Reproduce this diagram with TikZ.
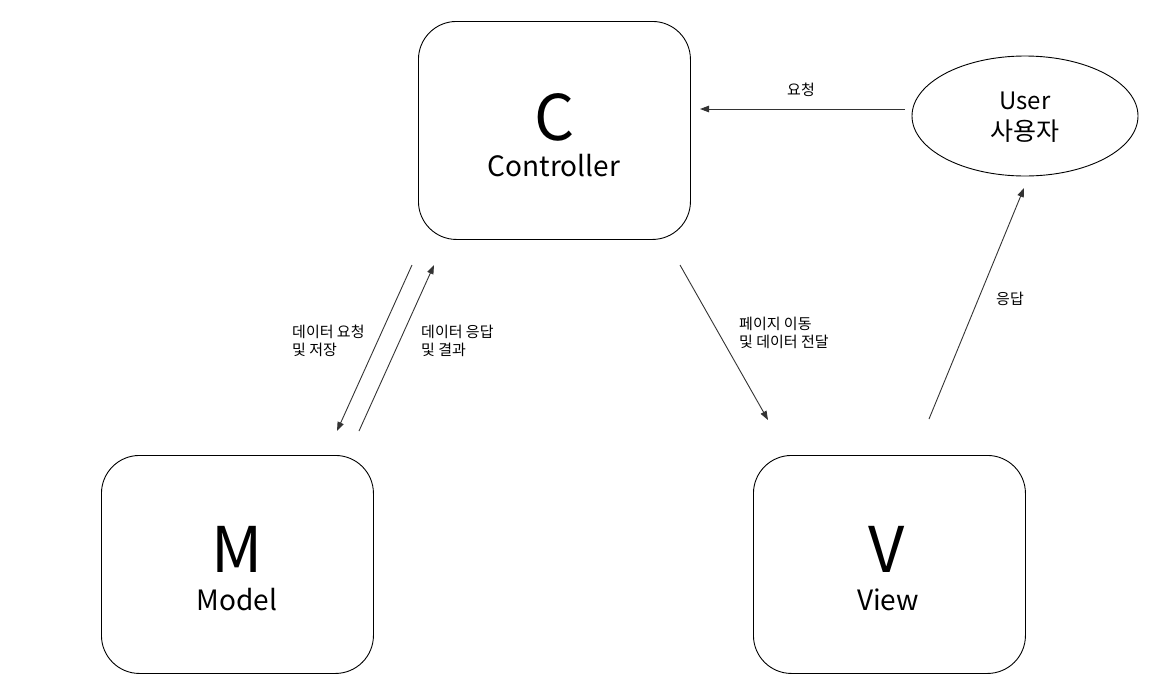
\documentclass[tikz,border=0pt]{standalone}
\usepackage{fontspec}
\setmainfont{Noto Sans CJK KR}
\usetikzlibrary{arrows.meta,shapes.geometric}
\begin{document}
\begin{tikzpicture}[x=1pt,y=-1pt,
  box/.style={draw=black,line width=0.9pt,rounded corners=38pt,minimum width=272pt,minimum height=218pt,anchor=north west,inner sep=0pt},
  conn/.style={draw=black!80,line width=0.9pt,-{Triangle[length=9pt,width=6.5pt]}},
  lbl/.style={font=\fontsize{15}{18}\selectfont,align=left,inner sep=0pt},
  big/.style={font=\fontsize{63}{63}\selectfont,inner sep=0pt},
  sub/.style={font=\fontsize{28}{28}\selectfont,inner sep=0pt}]
\useasboundingbox (0,0) rectangle (1170,691);
\node[box] (C) at (418,21) {};
\node[box] (M) at (101,455) {};
\node[box] (V) at (753,455) {};
\node[draw=black,line width=0.9pt,ellipse,minimum width=226pt,minimum height=120pt,inner sep=0pt] (U) at (1025,116) {};
\node[big] (Ct) at (555,117) {C};
\node[sub] (Cs) at (554,166) {Controller};
\node[big] (Mt) at (237,549) {M};
\node[sub] (Ms) at (237,600) {Model};
\node[big] (Vt) at (887,549) {V};
\node[sub] (Vs) at (888,600) {View};
\node[font=\fontsize{24}{24}\selectfont,inner sep=0pt] (Ut1) at (1025,101) {User};
\node[font=\fontsize{25}{25}\selectfont,inner sep=0pt] (Ut2) at (1025,131) {사용자};
% connector end coordinates
\coordinate (reqS) at (905,109);
\coordinate (reqE) at (700,109);
\coordinate (cmS) at (412,265);
\coordinate (cmE) at (337,431);
\coordinate (mcS) at (359,431);
\coordinate (mcE) at (434,265);
\coordinate (cvS) at (680,265);
\coordinate (cvE) at (768,420);
\coordinate (vuS) at (929,419);
\coordinate (vuE) at (1024,188);
\draw[conn] (reqS) -- (reqE);
\draw[conn] (cmS) -- (cmE);
\draw[conn] (mcS) -- (mcE);
\draw[conn] (cvS) -- (cvE);
\draw[conn] (vuS) -- (vuE);
\node[lbl] (l1) at (801,90) {요청};
\node[lbl,anchor=west] (l2) at (292,341) {데이터 요청\\및 저장};
\node[lbl,anchor=west] (l3) at (421,341) {데이터 응답\\및 결과};
\node[lbl,anchor=west] (l4) at (739,333) {페이지 이동\\및 데이터 전달};
\node[lbl] (l5) at (1010,299) {응답};
\end{tikzpicture}
\end{document}
